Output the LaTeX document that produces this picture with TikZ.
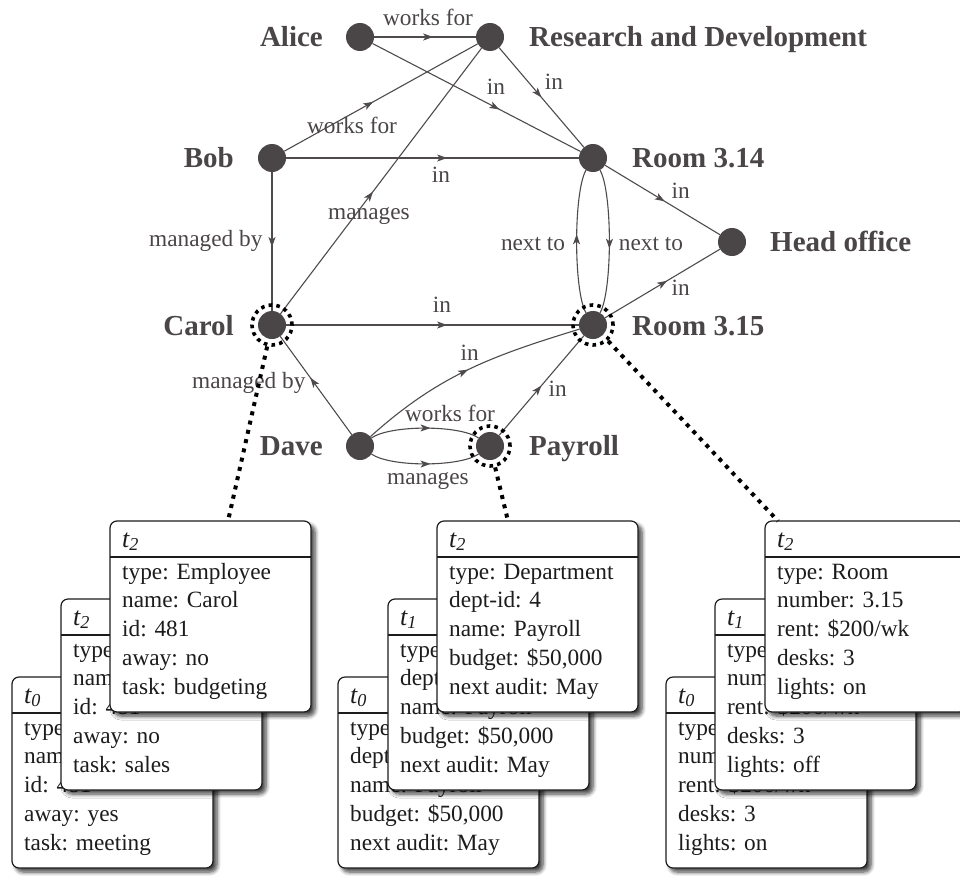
\documentclass[tikz,border=0pt]{standalone}
\usepackage{fontspec}
\setmainfont{Liberation Serif}
\usetikzlibrary{arrows.meta,decorations.markings,shadows.blur}

\definecolor{ink}{HTML}{4A4546}
\definecolor{edgeink}{HTML}{4F4B4C}
\definecolor{boxink}{HTML}{1C1C1C}

\tikzset{
  vert/.style={circle, fill=ink, minimum size=28pt, inner sep=0pt, outer sep=0pt},
  vname/.style={text=ink, font=\fontsize{29}{34}\selectfont\bfseries, inner sep=0pt},
  rel/.style={draw, color=edgeink, line width=1.1pt, postaction={decorate},
    decoration={markings, mark=at position #1 with {\arrow{Stealth[length=10pt,width=7pt,inset=2.5pt]}}}},
  rel/.default=0.55,
  lbl/.style={text=ink, font=\fontsize{23.3}{27}\selectfont, inner sep=0pt},
  ring/.style={circle, draw=black, line width=3.6pt, dash pattern=on 3.6pt off 4.2pt,
    minimum size=40pt, inner sep=0pt, outer sep=2pt},
  dotline/.style={draw=black, line width=4pt, dash pattern=on 4pt off 5.5pt},
  recshape/.style={draw=boxink, line width=1.2pt, fill=white, rounded corners=7pt,
    minimum width=201pt, minimum height=191pt, inner sep=0pt, outer sep=0pt,
    blur shadow={shadow xshift=4pt, shadow yshift=-4pt, shadow blur steps=6,
      shadow blur radius=4pt, shadow opacity=75}},
  recrule/.style={draw=boxink, line width=1.2pt},
  rechead/.style={text=boxink, font=\fontsize{26}{30}\selectfont\itshape, inner sep=0pt},
  recbody/.style={text=boxink, font=\fontsize{23.3}{28.8}\selectfont, inner sep=0pt},
}

% record card: name, left, top, time index, body rows
\newcommand\recbox[5]{%
  \node[recshape, anchor=north west] (#1) at (#2,#3) {};
  \draw[recrule] ([yshift=-36pt]#1.north west) -- ([yshift=-36pt]#1.north east);
  \node[rechead, anchor=base west] (#1-t) at ([xshift=12pt,yshift=-26pt]#1.north west) {t\textsubscript{#4}};
  \node[recbody, anchor=base west] (#1-b) at ([xshift=12pt,yshift=-58pt]#1.north west)
    {\begin{tabular}[t]{@{}l@{}}#5\end{tabular}};
}

\begin{document}
\begin{tikzpicture}[x=1pt, y=-1pt]
\useasboundingbox (0,0) rectangle (960,875);

% vertices
\node[vert] (alice)   at (360,37)  {};
\node[vert] (rd)      at (490,37)  {};
\node[vert] (bob)     at (272,158) {};
\node[vert] (r314)    at (593,158) {};
\node[vert] (head)    at (732,242) {};
\node[vert] (carol)   at (272,325) {};
\node[vert] (r315)    at (593,325) {};
\node[vert] (dave)    at (360,446) {};
\node[vert] (payroll) at (490,446) {};

% vertex names
\node[vname, anchor=base east] (alice-n)   at ([xshift=-37pt,yshift=-10pt]alice.center)  {Alice};
\node[vname, anchor=base west] (rd-n)      at ([xshift=39pt,yshift=-10pt]rd.center)      {Research and Development};
\node[vname, anchor=base east] (bob-n)     at ([xshift=-38pt,yshift=-9pt]bob.center)     {Bob};
\node[vname, anchor=base west] (r314-n)    at ([xshift=39pt,yshift=-9pt]r314.center)     {Room 3.14};
\node[vname, anchor=base west] (head-n)    at ([xshift=38pt,yshift=-9pt]head.center)     {Head office};
\node[vname, anchor=base east] (carol-n)   at ([xshift=-38pt,yshift=-10pt]carol.center)  {Carol};
\node[vname, anchor=base west] (r315-n)    at ([xshift=39pt,yshift=-10pt]r315.center)    {Room 3.15};
\node[vname, anchor=base east] (dave-n)    at ([xshift=-37pt,yshift=-9pt]dave.center)    {Dave};
\node[vname, anchor=base west] (payroll-n) at ([xshift=39pt,yshift=-9pt]payroll.center)  {Payroll};

% relations
\draw[rel=0.58] (alice) -- node[lbl, anchor=base, xshift=3pt, yshift=11pt] (e-aw) {works for} (rd);
\draw[rel=0.61] (alice) -- node[lbl, anchor=base, xshift=19.5pt, yshift=3.5pt] (e-ai) {in} (r314);
\draw[rel=0.50] (rd) -- node[lbl, anchor=base, xshift=12.5pt, yshift=8.5pt] (e-ri) {in} (r314);
\draw[rel=0.46] (bob) -- node[lbl, anchor=base, xshift=-29pt, yshift=-35.5pt] (e-bw) {works for} (rd);
\draw[rel=0.55] (bob) -- node[lbl, anchor=base, xshift=8.5pt, yshift=-24pt] (e-bi) {in} (r314);
\draw[rel=0.54] (bob) -- node[lbl, anchor=base east, xshift=-9pt, yshift=-4.5pt] (e-bm) {managed by} (carol);
\draw[rel=0.46] (carol) -- node[lbl, anchor=base, xshift=-12pt, yshift=-38pt] (e-cm) {manages} (rd);
\draw[rel=0.55] (carol) -- node[lbl, anchor=base, xshift=9.5pt, yshift=13pt] (e-ci) {in} (r315);
\draw[rel=0.55] (r315) to[out=120, in=-120, looseness=0.45]
  node[lbl, anchor=base east, xshift=-11pt, yshift=-8.5pt] (e-n1) {next to} (r314);
\draw[rel=0.55] (r314) to[out=-60, in=60, looseness=0.45]
  node[lbl, anchor=base west, xshift=9pt, yshift=-8.5pt] (e-n2) {next to} (r315);
\draw[rel=0.52] (r314) -- node[lbl, anchor=base west, xshift=8.5pt, yshift=2pt] (e-h1) {in} (head);
\draw[rel=0.54] (r315) -- node[lbl, anchor=base west, xshift=8.5pt, yshift=-11.5pt] (e-h2) {in} (head);
\draw[rel=0.58] (dave) -- node[lbl, anchor=base east, xshift=-10pt, yshift=-2.5pt] (e-dm) {managed by} (carol);
\draw[rel=0.50] (dave) to[out=42, in=-163]
  node[lbl, anchor=base, xshift=2pt, yshift=9pt] (e-di) {in} (r315);
\draw[rel=0.55] (dave) to[out=35, in=145, looseness=0.55]
  node[lbl, anchor=base, xshift=25pt, yshift=7pt] (e-dw) {works for} (payroll);
\draw[rel=0.55] (dave) to[out=-35, in=-145, looseness=0.55]
  node[lbl, anchor=base, xshift=3pt, yshift=-21pt] (e-dg) {manages} (payroll);
\draw[rel=0.50] (payroll) -- node[lbl, anchor=base west, xshift=6.5pt, yshift=-10.5pt] (e-pi) {in} (r315);

% highlighted vertices
\node[ring] (carol-ring)   at (carol)   {};
\node[ring] (r315-ring)    at (r315)    {};
\node[ring] (payroll-ring) at (payroll) {};

% record histories: Carol
\recbox{c0}{12}{677}{0}{type: Employee\\ name: Carol\\ id: 481\\ away: yes\\ task: meeting}
\recbox{c1}{61}{599}{2}{type: Employee\\ name: Carol\\ id: 481\\ away: no\\ task: sales}
\recbox{c2}{110}{521}{2}{type: Employee\\ name: Carol\\ id: 481\\ away: no\\ task: budgeting}

% record histories: Payroll
\recbox{p0}{338}{677}{0}{type: Department\\ dept-id: 4\\ name: Payroll\\ budget: \$50,000\\ next audit: May}
\recbox{p1}{388}{599}{1}{type: Department\\ dept-id: 4\\ name: Payroll\\ budget: \$50,000\\ next audit: May}
\recbox{p2}{437}{521}{2}{type: Department\\ dept-id: 4\\ name: Payroll\\ budget: \$50,000\\ next audit: May}

% record histories: Room 3.15
\recbox{r0}{666}{677}{0}{type: Room\\ number: 3.15\\ rent: \$200/wk\\ desks: 3\\ lights: on}
\recbox{r1}{715}{599}{1}{type: Room\\ number: 3.15\\ rent: \$200/wk\\ desks: 3\\ lights: off}
\recbox{r2}{765}{521}{2}{type: Room\\ number: 3.15\\ rent: \$200/wk\\ desks: 3\\ lights: on}

% links from highlighted vertices to their current records
\coordinate (c2-tap) at ([xshift=118pt]c2.north west);
\coordinate (p2-tap) at ([xshift=71pt]p2.north west);
\coordinate (r2-tap) at ([xshift=13pt]r2.north west);
\draw[dotline] (carol-ring) -- (c2-tap);
\draw[dotline] (payroll-ring) -- (p2-tap);
\draw[dotline] (r315-ring) -- (r2-tap);
\end{tikzpicture}
\end{document}
